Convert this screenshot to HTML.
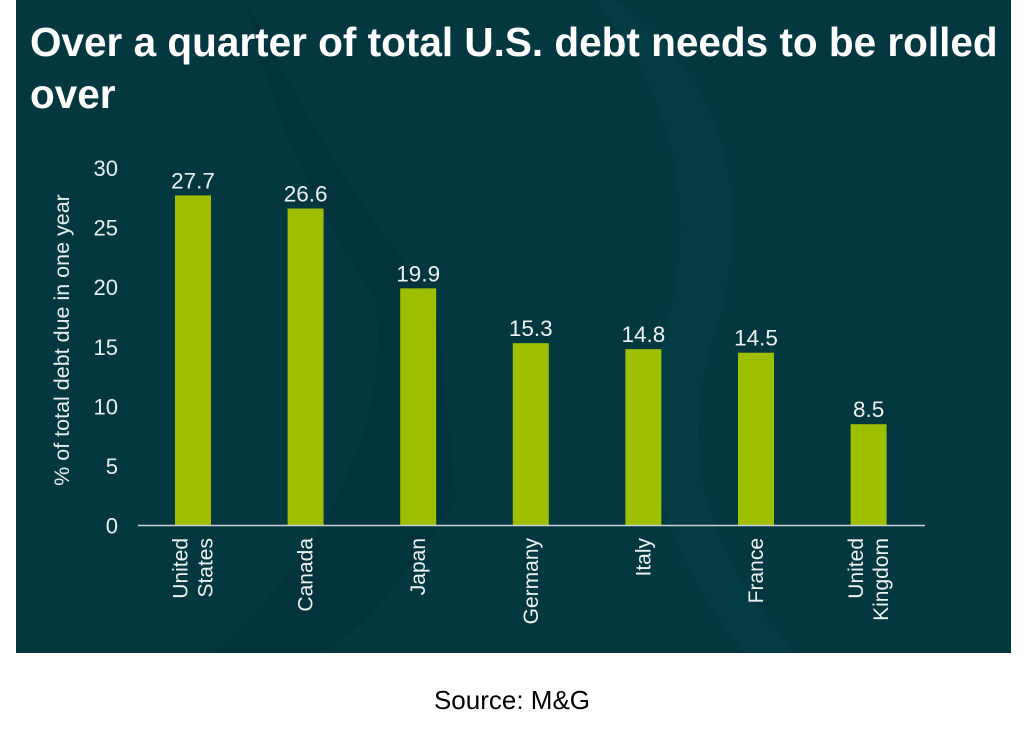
<!DOCTYPE html>
<html><head><meta charset="utf-8"><style>
body{margin:0;background:#fff;width:1024px;height:729px;overflow:hidden;font-family:"Liberation Sans",Arial,sans-serif}
#panel{position:absolute;left:16px;top:0;width:995px;height:653px;background:#043841;overflow:hidden}
#title{position:absolute;left:14px;top:16px;width:990px;color:#fff;font-weight:bold;font-size:40.5px;line-height:52px;margin:0}
#src{position:absolute;left:0;width:1024px;top:685px;text-align:center;font-size:26px;color:#000}
svg{position:absolute;left:0;top:0}
</style></head><body>
<div id="panel">
<svg width="995" height="653"><path d="M230 0 Q330 200 420 300 L440 500 Q350 640 300 653 L200 653 Q380 480 360 300 Q260 150 230 0Z" fill="#033138" opacity="0.6"/><path d="M600 0 Q760 120 700 330 Q640 500 780 653 L730 653 Q600 500 650 330 Q700 150 580 0Z" fill="#053f48" opacity="0.6"/></svg>
<h1 id="title">Over a quarter of total U.S. debt needs to be rolled over</h1>
</div>
<svg id="chart" width="1024" height="729"></svg>
<div id="src">Source: M&amp;G</div>
<script>
const categories=[["United","States"],["Canada"],["Japan"],["Germany"],["Italy"],["France"],["United","Kingdom"]];
const values=[27.7,26.6,19.9,15.3,14.8,14.5,8.5];
const valueLabels=["27.7","26.6","19.9","15.3","14.8","14.5","8.5"];
const yTicks=[0,5,10,15,20,25,30];
const NS="http://www.w3.org/2000/svg";
const svg=document.getElementById('chart');
const y0=525.5,yTop=168,yMax=30;
const y=v=>y0-(v/yMax)*(y0-yTop);
const xL=138,step=112.6,x=i=>193+i*step;
function mk(t,a){const e=document.createElementNS(NS,t);for(const k in a)e.setAttribute(k,a[k]);svg.appendChild(e);return e;}
yTicks.forEach(t=>{const e=mk('text',{x:118,y:y(t)+8,'text-anchor':'end','font-size':22,fill:'#e8eef0'});


e.textContent=t;});
const yt=mk('text',{transform:'translate(69,340) rotate(-90)','text-anchor':'middle','font-size':21.5,fill:'#e8eef0'});


yt.textContent='% of total debt due in one year';
values.forEach((v,i)=>{
const b=mk('rect',{x:x(i)-18,y:y(v),width:36,height:y0-y(v),fill:'#9dbf00'});


const l=mk('text',{x:x(i),y:y(v)-7,'text-anchor':'middle','font-size':22.5,fill:'#eef2f2'});


l.textContent=valueLabels[i];
const lines=categories[i];
lines.forEach((s,j)=>{
const cx=x(i)+7+(j-(lines.length-1)/2)*25;
const c=mk('text',{transform:`translate(${cx},538) rotate(-90)`,'text-anchor':'end','font-size':21,fill:'#eef2f2'});


c.textContent=s;});
});
const ax=mk('line',{x1:xL,x2:925,y1:y0,y2:y0,stroke:'#c8d2d4','stroke-width':1.5});


</script>
</body></html>
